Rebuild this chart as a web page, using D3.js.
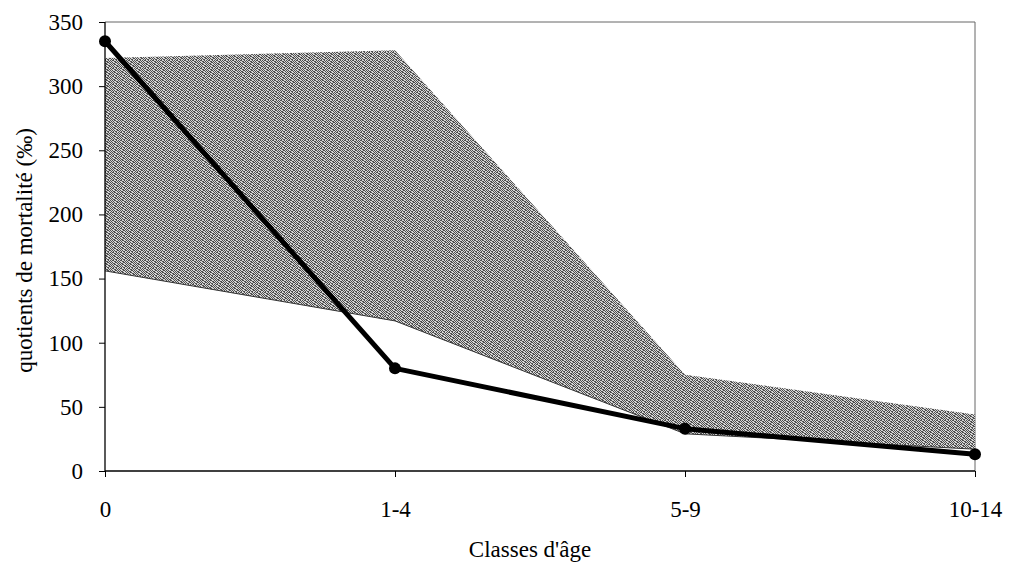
<!DOCTYPE html>
<html><head><meta charset="utf-8">
<script src="https://cdn.jsdelivr.net/npm/d3@7"></script>
<style>body{margin:0;background:#fff}svg{display:block}text{font-family:"Liberation Serif","Times New Roman",serif;fill:#000}</style>
</head><body><svg id="c" width="1011" height="562"></svg>
<script>
const categories = ["0","1-4","5-9","10-14"];
const bandUpper = [322, 328, 75, 44];
const bandLower = [156, 117, 29, 17];
const observed = [335, 80, 33, 13];
const yTicks = [0,50,100,150,200,250,300,350];

const svg = d3.select("#c");
const m = {l:105, r:36, t:22, b:91};
const W = 1011, H = 562;
const x = d3.scalePoint().domain(categories).range([m.l, W-m.r]).padding(0);
const y = d3.scaleLinear().domain([0,350]).range([H-m.b, m.t]);

// dithered grey pattern for band (fixed texture mask)
const mask = [
  "10110010",
  "01001101",
  "10100110",
  "01011001",
  "11001010",
  "00110101",
  "10011010",
  "01100101"];
const defs = svg.append("defs");
const pat = defs.append("pattern").attr("id","dith").attr("patternUnits","userSpaceOnUse").attr("width",8).attr("height",8);
pat.append("rect").attr("width",8).attr("height",8).attr("fill","#d6d6d6");
mask.forEach((row,r)=>row.split("").forEach((c,k)=>{ if(c==="1") pat.append("rect").attr("x",k).attr("y",r).attr("width",1).attr("height",1).attr("fill","#4e4e4e"); }));

// plot frame
svg.append("line").attr("x1",m.l).attr("x2",W-m.r).attr("y1",y(350)).attr("y2",y(350)).attr("stroke","#666").attr("stroke-width",1);
svg.append("line").attr("x1",W-m.r).attr("x2",W-m.r).attr("y1",y(350)).attr("y2",y(0)).attr("stroke","#666").attr("stroke-width",1);

const idx = d3.range(categories.length);
const area = d3.area().x(i=>x(categories[i])).y0(i=>y(bandLower[i])).y1(i=>y(bandUpper[i]));
svg.append("path").datum(idx).attr("d",area).attr("fill","url(#dith)");
svg.append("path").datum(idx).attr("d",d3.line().x(i=>x(categories[i])).y(i=>y(bandLower[i]))).attr("fill","none").attr("stroke","#333").attr("stroke-width",1);

// axes
const ya = svg.append("g").attr("transform",`translate(${m.l},0)`).call(d3.axisLeft(y).tickValues(yTicks).tickSize(6).tickPadding(16));
ya.select(".domain").attr("stroke","#000").attr("stroke-width",1.3).attr("d",`M0,${y(0)}V${y(350)}`);
ya.selectAll("line").attr("stroke","#000");
ya.selectAll("text").style("font-size","23px").style("font-family","Liberation Serif");
const xa = svg.append("g").attr("transform",`translate(0,${y(0)})`).call(d3.axisBottom(x).tickSize(6).tickPadding(24));
xa.select(".domain").attr("stroke","#000").attr("stroke-width",1.3).attr("d",`M${m.l},0H${W-m.r}`);
xa.selectAll("line").attr("stroke","#000");
xa.selectAll("text").style("font-size","23px").style("font-family","Liberation Serif");

// observed line
svg.append("path").datum(idx).attr("d",d3.line().x(i=>x(categories[i])).y(i=>y(observed[i]))).attr("fill","none").attr("stroke","#000").attr("stroke-width",5).attr("stroke-linejoin","round");
svg.selectAll("circle.pt").data(idx).join("circle").attr("class","pt").attr("cx",i=>x(categories[i])).attr("cy",i=>y(observed[i])).attr("r",6).attr("fill","#000");

// titles
svg.append("text").attr("x",530).attr("y",557).attr("text-anchor","middle").style("font-size","23px").text("Classes d'âge");
svg.append("text").attr("transform",`translate(32,${(y(0)+y(350))/2+4}) rotate(-90)`).attr("text-anchor","middle").style("font-size","23px").text("quotients de mortalité (‰)");
</script></body></html>
